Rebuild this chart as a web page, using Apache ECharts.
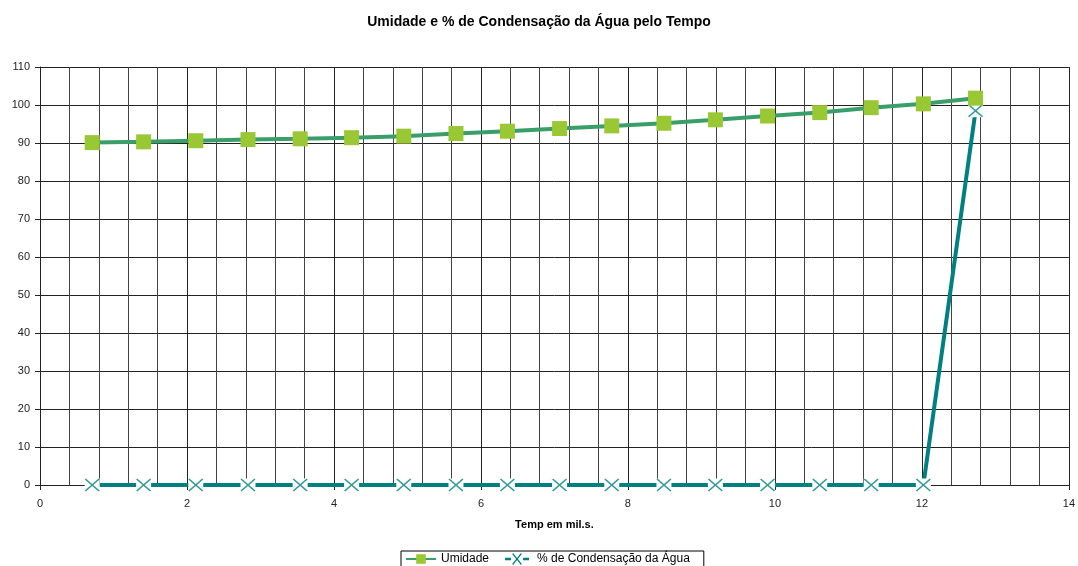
<!DOCTYPE html>
<html>
<head>
<meta charset="utf-8">
<script src="https://cdn.jsdelivr.net/npm/echarts@6/dist/echarts.min.js"></script>
<style>
  html, body { margin: 0; padding: 0; background: #fff; }
  #chart { width: 1078px; height: 566px; }
</style>
</head>
<body>
<div id="chart"></div>
<script>
// tempo (mil s) de cada medição
const tempo = [0.71, 1.41, 2.12, 2.83, 3.54, 4.24, 4.95, 5.66, 6.36, 7.07, 7.78, 8.49, 9.19, 9.90, 10.61, 11.31, 12.02, 12.73];
const umidade = [90.1, 90.3, 90.6, 90.9, 91.1, 91.4, 91.8, 92.5, 93.1, 93.8, 94.5, 95.2, 96.1, 97.1, 98.0, 99.3, 100.3, 101.8];
const condensacao = [0, 0, 0, 0, 0, 0, 0, 0, 0, 0, 0, 0, 0, 0, 0, 0, 0, 98.5];
const seriesNames = ['Umidade', '% de Condensação da Água'];

const font = "'Liberation Sans', Arial, sans-serif";
const xMark = 'path://M0,1.5L1.5,0L10,8.5L18.5,0L20,1.5L11.5,10L20,18.5L18.5,20L10,11.5L1.5,20L0,18.5L8.5,10Z';
const xLegend = 'path://M0,8h10v4h-10z M30,8h10v4h-10z M12,1.5L13.5,0L20,8.5L26.5,0L28,1.5L21.5,10L28,18.5L26.5,20L20,11.5L13.5,20L12,18.5L18.5,10Z';

const pairs = arr => tempo.map((t, i) => [t, arr[i]]);

const chart = echarts.init(document.getElementById('chart'));
chart.setOption({
  animation: false,
  title: {
    text: 'Umidade e % de Condensação da Água pelo Tempo',
    left: 'center',
    top: 10,
    textStyle: { fontFamily: font, fontSize: 14, fontWeight: 'bold', color: '#000' }
  },
  legend: {
    data: [
      { name: seriesNames[0] },
      { name: seriesNames[1], icon: xLegend, itemStyle: { color: '#008080' } }
    ],
    left: 401,
    top: 551,
    borderColor: '#000',
    borderWidth: 1,
    borderRadius: 0,
    padding: [2, 14, 2, 4],
    itemGap: 16,
    itemWidth: 30,
    itemHeight: 12,
    textStyle: { fontFamily: font, fontSize: 12, color: '#000' }
  },
  grid: { left: 40, right: 8, top: 67, bottom: 81 },
  xAxis: {
    type: 'value',
    min: 0,
    max: 14,
    interval: 2,
    name: 'Temp em mil.s.',
    nameLocation: 'middle',
    nameGap: 34,
    nameTextStyle: { fontFamily: font, fontSize: 11, fontWeight: 'bold', color: '#000' },
    axisLine: { lineStyle: { color: '#222' } },
    axisTick: { show: true, length: 5, lineStyle: { color: '#222' } },
    axisLabel: { fontFamily: font, fontSize: 11, color: '#222', margin: 13 },
    splitLine: { show: true, lineStyle: { color: '#222' } },
    minorTick: { show: false, splitNumber: 5 },
    minorSplitLine: { show: true, lineStyle: { color: '#444' } }
  },
  yAxis: {
    type: 'value',
    min: 0,
    max: 110,
    interval: 10,
    axisLine: { show: true, lineStyle: { color: '#222' } },
    axisTick: { show: true, length: 5, lineStyle: { color: '#222' } },
    axisLabel: { fontFamily: font, fontSize: 11, color: '#222', margin: 10 },
    splitLine: { show: true, lineStyle: { color: '#222' } }
  },
  series: [
    {
      name: seriesNames[0],
      type: 'line',
      data: pairs(umidade),
      z: 5,
      symbol: 'rect',
      symbolSize: 15,
      lineStyle: { color: '#3a9e6a', width: 4 },
      itemStyle: { color: '#9ac834' }
    },
    {
      name: seriesNames[1],
      type: 'line',
      data: pairs(condensacao),
      z: 3,
      symbol: 'rect',
      symbolSize: [15, 13],
      lineStyle: { color: '#008080', width: 4 },
      itemStyle: { color: '#fff' }
    },
    {
      name: seriesNames[1] + ' (marcador)',
      type: 'scatter',
      data: pairs(condensacao),
      z: 4,
      symbol: xMark,
      symbolSize: [15, 13],
      itemStyle: { color: '#008080' },
      silent: true
    }
  ]
});
</script>
</body>
</html>
